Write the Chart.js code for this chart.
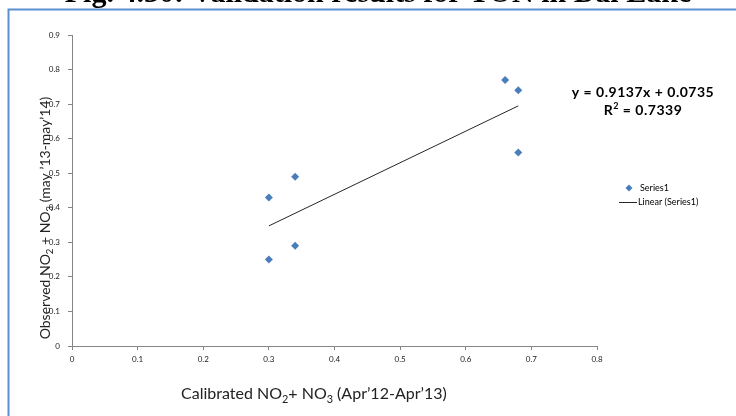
<!DOCTYPE html>
<html>
<head>
<meta charset="utf-8">
<script src="https://cdn.jsdelivr.net/npm/chart.js@4.4.1/dist/chart.umd.min.js"></script>
<style>
  html, body { margin: 0; padding: 0; background: #ffffff; }
  #wrap { width: 736px; height: 416px; overflow: hidden; }
</style>
</head>
<body>
<div id="wrap"><canvas id="chart" width="736" height="416"></canvas></div>
<script>
// Calibrated vs observed TON (NO2 + NO3) for the validation stations
const calibrated = [0.30, 0.30, 0.34, 0.34, 0.66, 0.68, 0.68];
const observed   = [0.43, 0.25, 0.49, 0.29, 0.77, 0.74, 0.56];

const xTickLabels = ['0', '0.1', '0.2', '0.3', '0.4', '0.5', '0.6', '0.7', '0.8'];
const yTickLabels = ['0', '0.1', '0.2', '0.3', '0.4', '0.5', '0.6', '0.7', '0.8', '0.9'];

// Linear trendline as reported on the chart
const trendSlope = 0.9137;
const trendIntercept = 0.0735;
const rSquared = 0.7339;

const seriesName = 'Series1';
const trendName = 'Linear (Series1)';
const figureTitle = 'Fig. 4.30: Validation results for TON in Dal Lake';

const UI_FONT = "Lato, 'Open Sans', 'DejaVu Sans', sans-serif";
const POINT_BLUE = '#4a7ebb';
const AXIS_GREY = '#868686';

const scatterPoints = calibrated.map((x, i) => ({ x: x, y: observed[i] }));
const xMin = Math.min(...calibrated);
const xMax = Math.max(...calibrated);
const trendPoints = [
  { x: xMin, y: trendSlope * xMin + trendIntercept },
  { x: xMax, y: trendSlope * xMax + trendIntercept }
];

// Draw a run of text pieces, some of them as subscripts, starting at (x, y) baseline
function richWidth(ctx, parts, size, weight) {
  let w = 0;
  for (const p of parts) {
    ctx.font = weight + ' ' + (p.sub ? size * 0.68 : size) + 'px ' + UI_FONT;
    w += ctx.measureText(p.t).width;
  }
  return w;
}
function drawRich(ctx, parts, x, y, size, weight) {
  let cx = x;
  for (const p of parts) {
    const s = p.sub ? size * 0.68 : size;
    ctx.font = weight + ' ' + s + 'px ' + UI_FONT;
    ctx.fillText(p.t, cx, p.sub ? y + size * 0.22 : y);
    cx += ctx.measureText(p.t).width;
  }
}

const xTitleParts = [
  { t: 'Calibrated NO' }, { t: '2', sub: true }, { t: '+ NO' }, { t: '3', sub: true },
  { t: ' (Apr\u201912-Apr\u201913)' }
];
const yTitleParts = [
  { t: 'Observed NO' }, { t: '2', sub: true }, { t: ' + NO' }, { t: '3', sub: true },
  { t: ' (may \u201913-may\u201914)' }
];

const decorations = {
  id: 'decorations',
  beforeDraw(chart) {
    const ctx = chart.ctx;
    ctx.save();
    ctx.fillStyle = '#ffffff';
    ctx.fillRect(0, 0, chart.width, chart.height);
    // page caption above the chart frame
    ctx.fillStyle = '#000000';
    ctx.font = 'bold 24px "Liberation Serif", "Times New Roman", serif';
    const tw = ctx.measureText(figureTitle).width;
    const ts = 24 * 627 / tw;
    ctx.font = 'bold ' + ts + 'px "Liberation Serif", "Times New Roman", serif';
    ctx.textAlign = 'center';
    ctx.textBaseline = 'alphabetic';
    ctx.fillText(figureTitle, 378, 2);
    // chart frame
    ctx.strokeStyle = '#5b8fd0';
    ctx.lineWidth = 2;
    ctx.strokeRect(8.5, 9.5, 900, 600);
    ctx.restore();
  },
  afterDraw(chart) {
    const ctx = chart.ctx;
    ctx.save();
    ctx.fillStyle = '#222222';
    ctx.textAlign = 'left';
    ctx.textBaseline = 'alphabetic';

    // x axis title
    drawRich(ctx, xTitleParts, 181, 399, 16, 'normal');

    // y axis title, reading upwards
    ctx.save();
    ctx.translate(50, 218);
    ctx.rotate(-Math.PI / 2);
    const yw = richWidth(ctx, yTitleParts, 14, 'normal');
    drawRich(ctx, yTitleParts, -yw / 2, 0, 14, 'normal');
    ctx.restore();

    // trendline equation
    ctx.save();
    ctx.fillStyle = '#000000';
    ctx.letterSpacing = '0.5px';
    ctx.textAlign = 'left';
    ctx.font = 'bold 14px ' + UI_FONT;
    const eq = 'y = ' + trendSlope.toFixed(4) + 'x + ' + trendIntercept.toFixed(4);
    const eqW = ctx.measureText(eq).width;
    ctx.fillText(eq, 643 - eqW / 2, 97);
    const rLabel = 'R';
    const rRest = ' = ' + rSquared.toFixed(4);
    const w1 = ctx.measureText(rLabel).width;
    ctx.font = 'bold 9px ' + UI_FONT;
    const w2 = ctx.measureText('2').width;
    ctx.font = 'bold 14px ' + UI_FONT;
    const w3 = ctx.measureText(rRest).width;
    const rx = 643 - (w1 + w2 + w3) / 2;
    ctx.fillText(rLabel, rx, 115);
    ctx.font = 'bold 9px ' + UI_FONT;
    ctx.fillText('2', rx + w1, 109);
    ctx.font = 'bold 14px ' + UI_FONT;
    ctx.fillText(rRest, rx + w1 + w2, 115);
    ctx.restore();

    // legend
    const ds0 = chart.data.datasets[0];
    const ds1 = chart.data.datasets[1];
    ctx.fillStyle = ds0.backgroundColor;
    ctx.beginPath();
    ctx.moveTo(629, 184.5); ctx.lineTo(632.5, 188); ctx.lineTo(629, 191.5); ctx.lineTo(625.5, 188);
    ctx.closePath();
    ctx.fill();
    ctx.fillStyle = '#000000';
    ctx.font = '9px ' + UI_FONT;
    ctx.textAlign = 'left';
    ctx.textBaseline = 'middle';
    ctx.fillText(ds0.label, 640, 188);
    ctx.strokeStyle = ds1.borderColor;
    ctx.lineWidth = 1;
    ctx.beginPath();
    ctx.moveTo(619, 202.5); ctx.lineTo(637, 202.5);
    ctx.stroke();
    ctx.fillText(ds1.label, 638, 202);
    ctx.restore();
  }
};

new Chart(document.getElementById('chart'), {
  type: 'scatter',
  data: {
    datasets: [
      {
        label: seriesName,
        data: scatterPoints,
        pointStyle: 'rectRot',
        pointRadius: 4,
        pointHoverRadius: 4,
        backgroundColor: POINT_BLUE,
        borderColor: POINT_BLUE,
        borderWidth: 0,
        showLine: false
      },
      {
        label: trendName,
        type: 'line',
        data: trendPoints,
        borderColor: '#262626',
        borderWidth: 1,
        pointRadius: 0,
        fill: false,
        tension: 0
      }
    ]
  },
  options: {
    responsive: false,
    animation: false,
    devicePixelRatio: 1,
    layout: { padding: { top: 35, right: 139, left: 0, bottom: 0 } },
    plugins: {
      legend: { display: false },
      tooltip: { enabled: false },
      title: { display: false }
    },
    scales: {
      x: {
        type: 'linear',
        min: 0,
        max: 0.8,
        ticks: {
          stepSize: 0.1,
          autoSkip: false,
          maxRotation: 0,
          padding: 5,
          color: '#222222',
          font: { family: UI_FONT, size: 8 },
          callback: (v) => xTickLabels[Math.round(v * 10)]
        },
        grid: { drawOnChartArea: false, drawTicks: true, tickLength: 4, color: AXIS_GREY },
        border: { display: true, color: AXIS_GREY },
        afterFit: (s) => { s.height = 70; }
      },
      y: {
        type: 'linear',
        min: 0,
        max: 0.9,
        ticks: {
          stepSize: 0.1,
          autoSkip: false,
          padding: 8,
          color: '#222222',
          font: { family: UI_FONT, size: 8 },
          callback: (v) => yTickLabels[Math.round(v * 10)]
        },
        grid: { drawOnChartArea: false, drawTicks: true, tickLength: 4, color: AXIS_GREY },
        border: { display: true, color: AXIS_GREY },
        afterFit: (s) => { s.width = 72; }
      }
    }
  },
  plugins: [decorations]
});
</script>
</body>
</html>
